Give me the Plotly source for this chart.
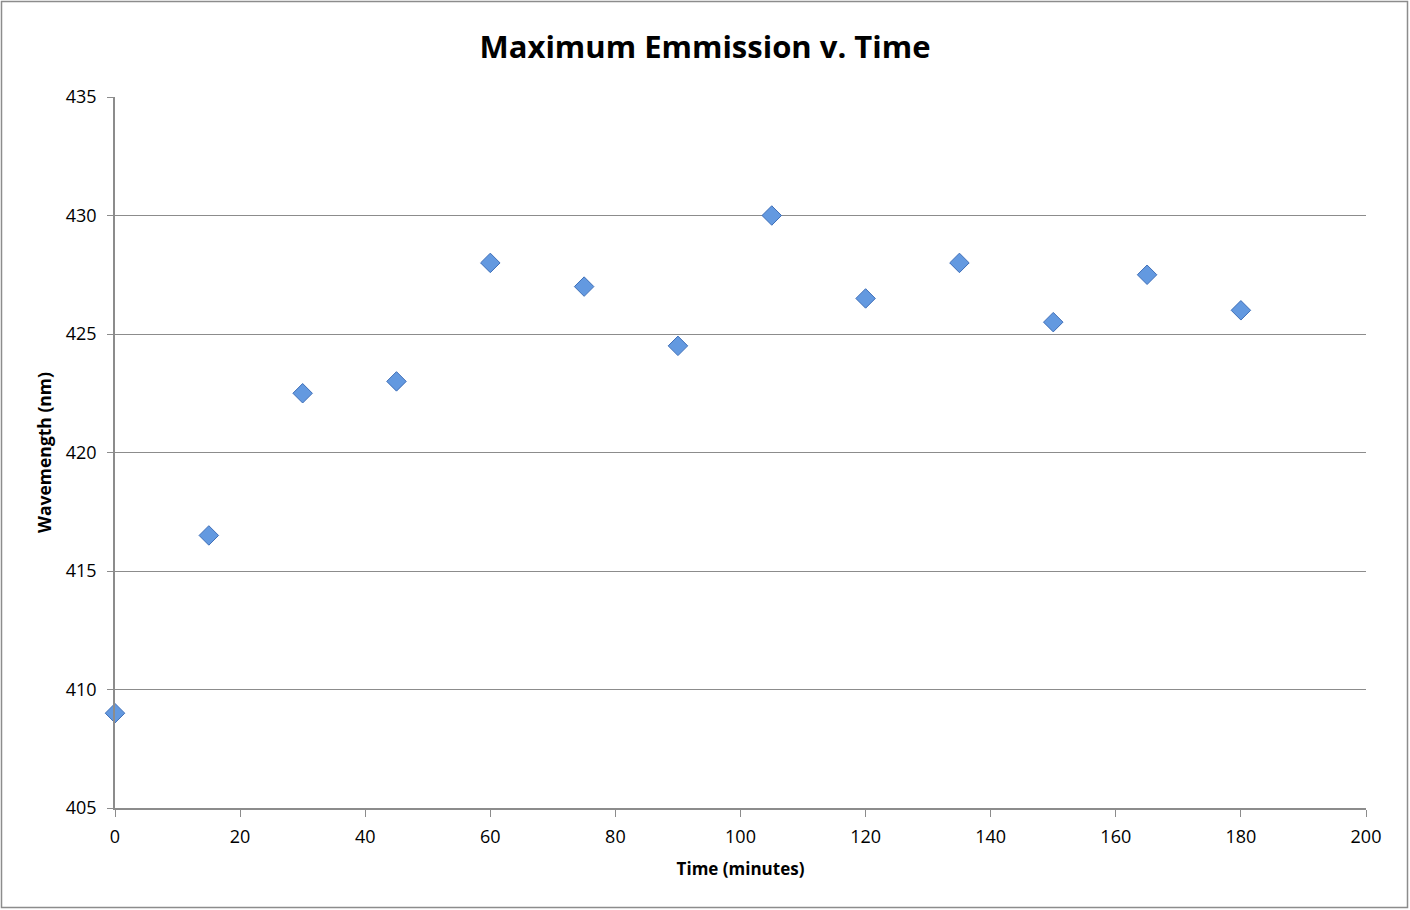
import plotly.graph_objects as go

time_min = [0, 15, 30, 45, 60, 75, 90, 105, 120, 135, 150, 165, 180]
wavelength_nm = [409, 416.5, 422.5, 423, 428, 427, 424.5, 430, 426.5, 428, 425.5, 427.5, 426]

W, H = 1410, 910
L, R, T, B = 115, 44, 97, 102
pw, ph = W - L - R, H - T - B

fig = go.Figure()
fig.add_trace(go.Scatter(
    x=time_min, y=wavelength_nm, mode="markers",
    marker=dict(symbol="diamond", size=15, color="#6399E0",
                line=dict(color="#3F6FB8", width=1)),
    showlegend=False, cliponaxis=False,
))

fig.update_layout(
    width=W, height=H,
    margin=dict(l=L, r=R, t=T, b=B),
    paper_bgcolor="white", plot_bgcolor="white",
    font=dict(family="Open Sans, Liberation Sans, sans-serif", color="black", size=18),
    title=dict(text="<b>Maximum Emmission v. Time</b>", x=0.5, xanchor="center",
               y=1 - 47 / H, yanchor="middle", font=dict(size=31)),
    xaxis=dict(range=[0, 200], dtick=20, showgrid=False, zeroline=False,
               showline=True, linecolor="#8C8C8C", linewidth=1.5,
               ticks="outside", ticklen=7, tickcolor="#8C8C8C", ticklabelstandoff=5,
               title=dict(text="<b>Time (minutes)</b>", font=dict(size=17), standoff=16),
               tickfont=dict(size=18)),
    yaxis=dict(range=[405, 435], dtick=5, showgrid=True, gridcolor="#8C8C8C", gridwidth=1,
               zeroline=False, showline=True, linecolor="#8C8C8C", linewidth=1.5,
               ticks="outside", ticklen=6, tickcolor="#8C8C8C", ticklabelstandoff=7,
               title=dict(text="<b>Wavemength (nm)</b>", font=dict(size=17.5), standoff=10),
               tickfont=dict(size=18)),
    shapes=[dict(type="rect", xref="paper", yref="paper",
                 x0=(1.5 - L) / pw, x1=(W - 2.5 - L) / pw,
                 y0=(ph + T - (H - 2.5)) / ph, y1=(ph + T - 1.5) / ph,
                 line=dict(color="#8C8C8C", width=1.5), fillcolor="rgba(0,0,0,0)", layer="below")],
)

fig.write_html("out.html", config={"displayModeBar": False},
               post_script="document.body.style.margin='0';document.body.style.overflow='hidden';")
